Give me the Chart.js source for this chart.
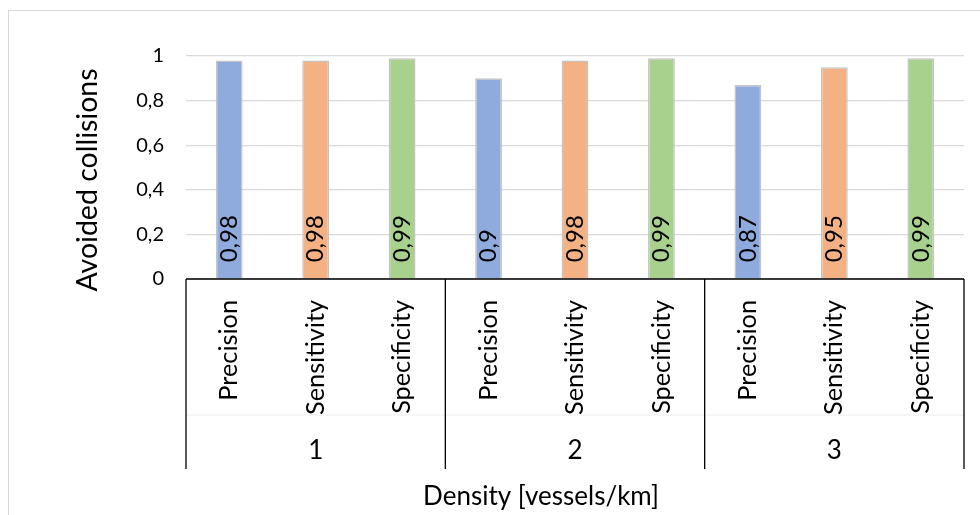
<!DOCTYPE html>
<html>
<head>
<meta charset="utf-8">
<script src="https://cdn.jsdelivr.net/npm/chart.js@4/dist/chart.umd.min.js"></script>
<style>
  html, body { margin: 0; padding: 0; background: #fff; }
</style>
</head>
<body>
<canvas id="collisionChart" width="980" height="515"></canvas>
<script>
const densities = ["1", "2", "3"];
const metrics = ["Precision", "Sensitivity", "Specificity"];
const precision = [0.98, 0.9, 0.87];
const sensitivity = [0.98, 0.98, 0.95];
const specificity = [0.99, 0.99, 0.99];
const yTicks = [0, 0.2, 0.4, 0.6, 0.8, 1];
const metricColors = ["#8faadc", "#f4b183", "#a9d18e"];
const xTitle = "Density [vessels/km]";
const yTitle = "Avoided collisions";

// flatten into one category per bar: density -> metric
const labels = [];
const values = [];
const colors = [];
densities.forEach((d, i) => {
  [precision, sensitivity, specificity].forEach((series, j) => {
    labels.push(metrics[j]);
    values.push(series[i]);
    colors.push(metricColors[j]);
  });
});

const fontFamily = "Lato, 'Open Sans', sans-serif";
const toComma = (v) => String(Math.round(v * 100) / 100).replace(".", ",");

// excel style extras: frame, value labels, multi-level category box, titles
const excelLook = {
  id: "excelLook",
  beforeDraw(chart) {
    const ctx = chart.ctx;
    ctx.save();
    ctx.strokeStyle = "#d9d9d9";
    ctx.lineWidth = 1;
    ctx.strokeRect(8.5, 10.5, 1000, 600);
    ctx.restore();
  },
  afterDatasetsDraw(chart) {
    const ctx = chart.ctx;
    const meta = chart.getDatasetMeta(0);
    ctx.save();
    ctx.font = "24px " + fontFamily;
    ctx.fillStyle = "#000";
    ctx.textAlign = "left";
    ctx.textBaseline = "middle";
    meta.data.forEach((bar, i) => {
      ctx.save();
      ctx.translate(bar.x, bar.base - 16);
      ctx.rotate(-Math.PI / 2);
      ctx.fillText(toComma(values[i]), 0, 0);
      ctx.restore();
    });
    ctx.restore();
  },
  afterDraw(chart) {
    const { ctx, chartArea } = chart;
    const x = chart.scales.x;
    const top = chartArea.bottom;
    const bottom = top + 190;
    ctx.save();

    ctx.strokeStyle = "#ececec";
    ctx.lineWidth = 1;
    ctx.beginPath();
    ctx.moveTo(chartArea.left, top + 136);
    ctx.lineTo(chartArea.right, top + 136);
    ctx.stroke();

    ctx.strokeStyle = "#000";
    ctx.lineWidth = 1.3;
    ctx.beginPath();
    ctx.moveTo(chartArea.left, top);
    ctx.lineTo(chartArea.right, top);
    for (let g = 0; g <= densities.length; g++) {
      const px = x.getPixelForValue(g * metrics.length - 0.5);
      ctx.moveTo(px, top);
      ctx.lineTo(px, bottom);
    }
    ctx.stroke();

    ctx.fillStyle = "#000";
    ctx.textAlign = "center";
    ctx.textBaseline = "middle";
    ctx.font = "26px " + fontFamily;
    densities.forEach((d, g) => {
      ctx.fillText(d, x.getPixelForValue(g * metrics.length + 1), top + 172);
    });

    // axis titles, placed like the excel original
    ctx.fillText(xTitle, 541, 497);
    ctx.font = "28.5px " + fontFamily;
    ctx.translate(88, 180);
    ctx.rotate(-Math.PI / 2);
    ctx.fillText(yTitle, 0, 0);
    ctx.restore();
  },
};

new Chart(document.getElementById("collisionChart"), {
  type: "bar",
  data: {
    labels: labels,
    datasets: [
      {
        data: values,
        backgroundColor: colors,
        borderColor: "#c4c4c4",
        borderWidth: 1.5,
        barPercentage: 0.31,
        categoryPercentage: 1,
      },
    ],
  },
  options: {
    responsive: false,
    animation: false,
    devicePixelRatio: 1,
    layout: {
      padding: { left: 72, right: 16, top: 56, bottom: 0 },
    },
    plugins: {
      legend: { display: false },
      tooltip: { enabled: false },
    },
    scales: {
      x: {
        grid: { display: false, drawTicks: false },
        border: { display: false },
        ticks: {
          autoSkip: false,
          minRotation: 90,
          maxRotation: 90,
          padding: 21,
          color: "#000",
          font: { family: fontFamily, size: 25.3 },
        },
        afterFit: (scale) => {
          scale.height = 236;
        },
      },
      y: {
        min: 0,
        max: 1,
        grid: { color: "#d9d9d9", lineWidth: 1.3, drawTicks: false },
        border: { display: false },
        afterBuildTicks: (scale) => {
          scale.ticks = yTicks.map((v) => ({ value: v }));
        },
        ticks: {
          padding: 22,
          color: "#000",
          font: { family: fontFamily, size: 20 },
          callback: (v) => toComma(v),
        },
        afterFit: (scale) => {
          scale.width = 114;
        },
      },
    },
  },
  plugins: [excelLook],
});
</script>
</body>
</html>
